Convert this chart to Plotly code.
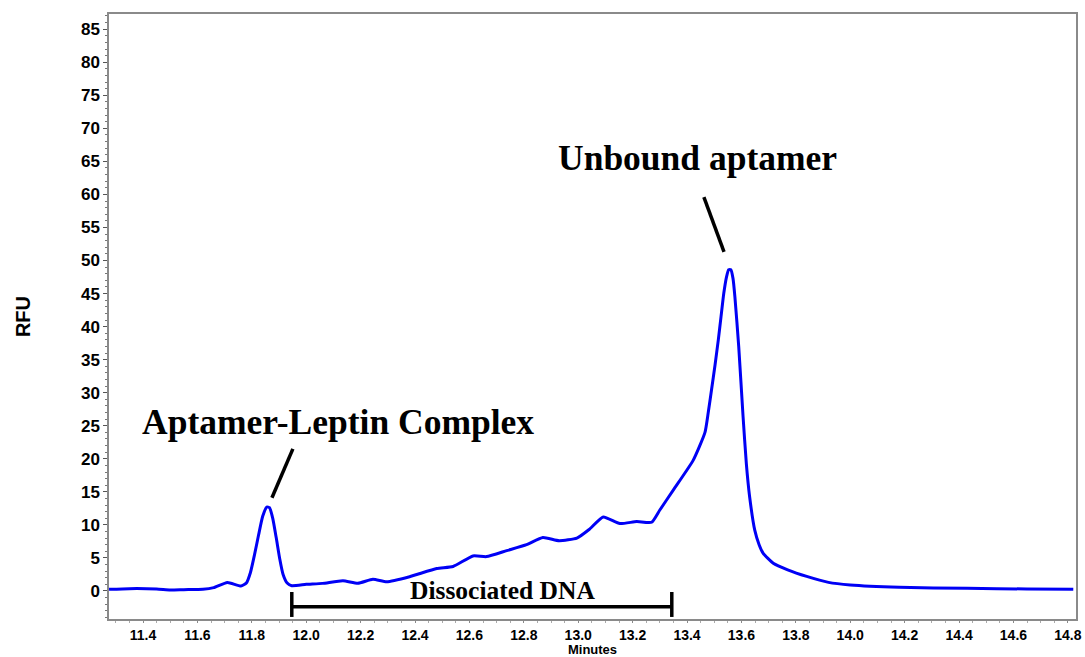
import plotly.graph_objects as go

# Electropherogram trace (minutes, RFU)
minutes = [11.275, 11.35, 11.45, 11.50, 11.55, 11.62, 11.66, 11.71, 11.76, 11.78,
           11.795, 11.81, 11.825, 11.84, 11.855, 11.865, 11.877, 11.89, 11.903, 11.915,
           11.93, 11.947, 12.00, 12.06, 12.135, 12.19, 12.245, 12.296, 12.38, 12.48,
           12.54, 12.613, 12.663, 12.737, 12.81, 12.87, 12.93, 12.995, 13.04, 13.092,
           13.153, 13.215, 13.27, 13.30, 13.35, 13.423, 13.466, 13.478, 13.49, 13.503,
           13.515, 13.525, 13.535, 13.545, 13.553, 13.561, 13.569, 13.576, 13.59, 13.606,
           13.618, 13.63, 13.649, 13.665, 13.68, 13.717, 13.77, 13.84, 13.92, 14.0,
           14.18, 14.43, 14.65, 14.82]
rfu = [0.25, 0.35, 0.3, 0.15, 0.2, 0.25, 0.5, 1.3, 0.75, 1.2,
       2.8, 5.5, 8.5, 11.3, 12.7, 12.6, 11.0, 8.0, 4.8, 2.5,
       1.2, 0.8, 1.0, 1.15, 1.56, 1.16, 1.77, 1.4, 2.16, 3.4,
       3.7, 5.3, 5.2, 6.1, 7.0, 8.1, 7.6, 8.0, 9.3, 11.2,
       10.2, 10.5, 10.4, 12.25, 15.3, 19.8, 24.0, 27.0, 30.4, 34.2,
       38.0, 41.5, 45.0, 47.5, 48.6, 48.6, 47.3, 44.5, 37.0, 26.4,
       19.3, 14.3, 9.2, 7.0, 5.7, 4.2, 3.2, 2.2, 1.3, 0.9,
       0.55, 0.4, 0.3, 0.25]

# Annotation labels
label_complex = "Aptamer-Leptin Complex"
label_unbound = "Unbound aptamer"
label_dna = "Dissociated DNA"
dna_range = [11.947, 13.344]

fig = go.Figure()
fig.add_trace(go.Scatter(x=minutes, y=rfu, mode="lines",
                         line=dict(color="#0000F5", width=3, shape="spline", smoothing=0.5),
                         hoverinfo="skip", showlegend=False))

serif = "Liberation Serif, Times New Roman, serif"
fig.add_annotation(x=12.117, y=25.6, text="<b>%s</b>" % label_complex, showarrow=False,
                   font=dict(family=serif, size=35.5, color="black"))
fig.add_annotation(x=13.437, y=65.5, text="<b>%s</b>" % label_unbound, showarrow=False,
                   font=dict(family=serif, size=35.5, color="black"))
fig.add_annotation(x=12.723, y=0.0, text="<b>%s</b>" % label_dna, showarrow=False,
                   font=dict(family=serif, size=25.5, color="black"))

# pointer lines
fig.add_shape(type="line", x0=11.874, y0=14.1, x1=11.951, y1=21.5,
              line=dict(color="black", width=3.5))
fig.add_shape(type="line", x0=13.536, y0=51.3, x1=13.462, y1=59.6,
              line=dict(color="black", width=3.5))
# bracket
fig.add_shape(type="line", x0=dna_range[0], y0=-2.37, x1=dna_range[1], y1=-2.37,
              line=dict(color="black", width=3.5))
for xb in dna_range:
    fig.add_shape(type="line", x0=xb, y0=-0.15, x1=xb, y1=-3.93,
                  line=dict(color="black", width=3.5))

sans = "Liberation Sans, Arial, sans-serif"
fig.update_layout(
    width=1085, height=657,
    margin=dict(l=109, r=9, t=14, b=38),
    paper_bgcolor="white", plot_bgcolor="white",
    xaxis=dict(range=[11.275, 14.83], dtick=0.2, tick0=11.4, tickformat=".1f",
               automargin=False,
               showgrid=False, zeroline=False, showline=True, linecolor="#8a8a8a",
               linewidth=1.5, mirror=True, ticks="outside", ticklen=2, tickcolor="#8a8a8a",
               minor=dict(dtick=0.05, ticks="outside", ticklen=2, tickcolor="#aaaaaa"),
               tickfont=dict(family=sans, size=14, color="black", weight="bold"),
               title=dict(text="<b>Minutes</b>", standoff=3,
                          font=dict(family=sans, size=13, color="black"))),
    yaxis=dict(range=[-4.24, 87.3], dtick=5, tick0=0,
               automargin=False,
               showgrid=False, zeroline=False, showline=True, linecolor="#8a8a8a",
               linewidth=1.5, mirror=True, ticks="outside", ticklen=4, tickcolor="#555555",
               minor=dict(dtick=1, ticks="outside", ticklen=2, tickcolor="#777777"),
               tickfont=dict(family=sans, size=17, color="black", weight="bold"),
               title=dict(text="<b>RFU</b>", standoff=45,
                          font=dict(family=sans, size=20, color="black"))),
)

fig.write_html("out.html")
